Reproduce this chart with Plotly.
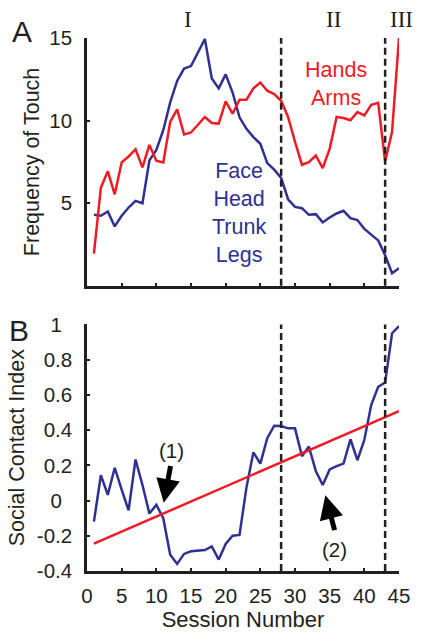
import plotly.graph_objects as go

sessions = list(range(1, 46))

face_head_trunk_legs = [4.3, 4.24, 4.5, 3.6, 4.24, 4.74, 5.14, 5.0, 7.59, 8.23,
                        9.42, 11.1, 12.4, 13.15, 13.3, 14.1, 14.94, 12.55, 11.95, 12.8,
                        11.7, 10.2, 9.5, 9.0, 8.6, 7.43, 7.03, 6.53, 5.24, 4.78,
                        4.7, 4.3, 4.34, 3.84, 4.14, 4.38, 4.54, 4.1, 3.98, 3.45,
                        3.1, 2.75, 1.85, 0.76, 1.06]

hands_arms = [1.95, 5.94, 6.93, 5.54, 7.47, 7.83, 8.27, 7.17, 8.53, 7.57,
              7.47, 9.92, 10.68, 9.16, 9.28, 9.72, 10.22, 9.86, 9.82, 11.16,
              10.42, 11.27, 11.27, 11.95, 12.31, 11.81, 11.61, 11.2, 10.22, 8.72,
              7.33, 7.49, 7.89, 7.13, 8.29, 10.22, 10.16, 10.02, 10.52, 10.32,
              10.96, 11.08, 7.53, 9.32, 15.0]

social_contact_index = [-0.12, 0.144, 0.032, 0.186, 0.062, -0.056, 0.233, 0.088, -0.074, -0.024,
                        -0.10, -0.307, -0.36, -0.303, -0.288, -0.285, -0.281, -0.26, -0.335, -0.246,
                        -0.2, -0.195, 0.075, 0.274, 0.21, 0.354, 0.425, 0.423, 0.41, 0.41,
                        0.252, 0.307, 0.168, 0.088, 0.177, 0.196, 0.21, 0.348, 0.229, 0.345,
                        0.544, 0.646, 0.67, 0.95, 0.99]

trend_x = [1, 45]
trend_y = [-0.245, 0.508]

phase_boundaries = [28, 43]
phase_labels = ["I", "II", "III"]
phase_label_x = [14.6, 35.5, 45.3]

top_yticks = [5, 10, 15]
bottom_yticks = [-0.4, -0.2, 0, 0.2, 0.4, 0.6, 0.8, 1]
bottom_yticklabels = ["-0.4", "-0.2", "0\u2002", "0.2", "0.4", "0.6", "0.8", "1\u2002"]
xticks = [0, 5, 10, 15, 20, 25, 30, 35, 40, 45]

BLUE = "#2e3192"
RED = "#ed1c24"
INK = "#231f20"
FONT = "Liberation Sans, Arial, sans-serif"

fig = go.Figure()

fig.add_trace(go.Scatter(x=sessions, y=face_head_trunk_legs, mode="lines",
                         line=dict(color=BLUE, width=2.5), xaxis="x", yaxis="y",
                         showlegend=False, name="Face Head Trunk Legs"))
fig.add_trace(go.Scatter(x=sessions, y=hands_arms, mode="lines",
                         line=dict(color=RED, width=2.5), xaxis="x", yaxis="y",
                         showlegend=False, name="Hands Arms"))
fig.add_trace(go.Scatter(x=sessions, y=social_contact_index, mode="lines",
                         line=dict(color=BLUE, width=2.5), xaxis="x2", yaxis="y2",
                         showlegend=False, name="Social Contact Index"))
fig.add_trace(go.Scatter(x=trend_x, y=trend_y, mode="lines",
                         line=dict(color=RED, width=2.5), xaxis="x2", yaxis="y2",
                         showlegend=False, name="Trend"))

axis_common = dict(showline=True, linecolor=INK, linewidth=2.5, ticks="inside",
                   ticklen=3, tickwidth=2, tickcolor=INK, showgrid=False, zeroline=False,
                   tickfont=dict(family=FONT, size=20.5, color=INK))

fig.update_layout(
    width=422, height=639,
    margin=dict(l=87, r=15, t=38, b=59),
    paper_bgcolor="white", plot_bgcolor="white",
    xaxis=dict(domain=[0, 1], range=[0, 45], anchor="y", tickvals=xticks,
               showticklabels=False, **axis_common),
    yaxis=dict(domain=[0.535, 1], range=[0, 15], anchor="x", tickvals=top_yticks,
               ticklabelstandoff=8,
               title=dict(text="Frequency of Touch", standoff=4,
                          font=dict(family=FONT, size=21.5, color=INK)),
               **axis_common),
    xaxis2=dict(domain=[0, 1], range=[0, 45], anchor="y2", tickvals=xticks,
                ticklabelstandoff=5,
                title=dict(text="Session Number", standoff=4,
                           font=dict(family=FONT, size=22, color=INK)),
                **axis_common),
    yaxis2=dict(domain=[0, 0.4626], range=[-0.4, 1], anchor="x2",
                tickvals=bottom_yticks, ticktext=bottom_yticklabels,
                ticklabelstandoff=8,
                title=dict(text="Social Contact Index", standoff=7,
                           font=dict(family=FONT, size=21.5, color=INK)),
                **axis_common),
)

for xb in phase_boundaries:
    for xr, yr in (("x", "y domain"), ("x2", "y2 domain")):
        fig.add_shape(type="line", xref=xr, yref=yr, x0=xb, x1=xb, y0=0, y1=1,
                      line=dict(color=INK, width=2.5, dash="7px,4px"))

for lbl, lx in zip(phase_labels, phase_label_x):
    fig.add_annotation(x=lx / 45, y=1.035, xref="paper", yref="paper", text=lbl,
                       showarrow=False, xanchor="center", yanchor="middle",
                       font=dict(family="Liberation Serif, Times New Roman, serif",
                                 size=23, color=INK))

fig.add_annotation(x=35.96, y=12.2, xref="x", yref="y", text="Hands<br>Arms",
                   showarrow=False, xanchor="center", yanchor="middle",
                   font=dict(family=FONT, size=21.5, color=RED))
fig.add_annotation(x=21.97, y=4.41, xref="x", yref="y",
                   text="Face<br>Head<br>Trunk<br>Legs",
                   showarrow=False, xanchor="center", yanchor="middle",
                   font=dict(family=FONT, size=21.5, color=BLUE))

fig.add_annotation(x=-0.209, y=1.012, xref="paper", yref="paper", text="A",
                   showarrow=False, xanchor="center", yanchor="middle",
                   font=dict(family=FONT, size=30, color=INK))
fig.add_annotation(x=-0.217, y=0.452, xref="paper", yref="paper", text="B",
                   showarrow=False, xanchor="center", yanchor="middle",
                   font=dict(family=FONT, size=30, color=INK))

# arrows
fig.add_annotation(x=11.07, y=-0.012, ax=12.09, ay=0.205, xref="x2", yref="y2",
                   axref="x2", ayref="y2", text="", showarrow=True, arrowhead=2,
                   arrowwidth=5, arrowsize=0.95, arrowcolor="black", standoff=0)
fig.add_annotation(x=34.37, y=0.03, ax=35.77, ay=-0.177, xref="x2", yref="y2",
                   axref="x2", ayref="y2", text="", showarrow=True, arrowhead=2,
                   arrowwidth=5, arrowsize=0.95, arrowcolor="black", standoff=0)
fig.add_annotation(x=12.19, y=0.287, xref="x2", yref="y2", text="(1)",
                   showarrow=False, xanchor="center", yanchor="middle",
                   font=dict(family=FONT, size=20.5, color=INK))
fig.add_annotation(x=35.68, y=-0.277, xref="x2", yref="y2", text="(2)",
                   showarrow=False, xanchor="center", yanchor="middle",
                   font=dict(family=FONT, size=20.5, color=INK))

fig.write_html("out.html")
